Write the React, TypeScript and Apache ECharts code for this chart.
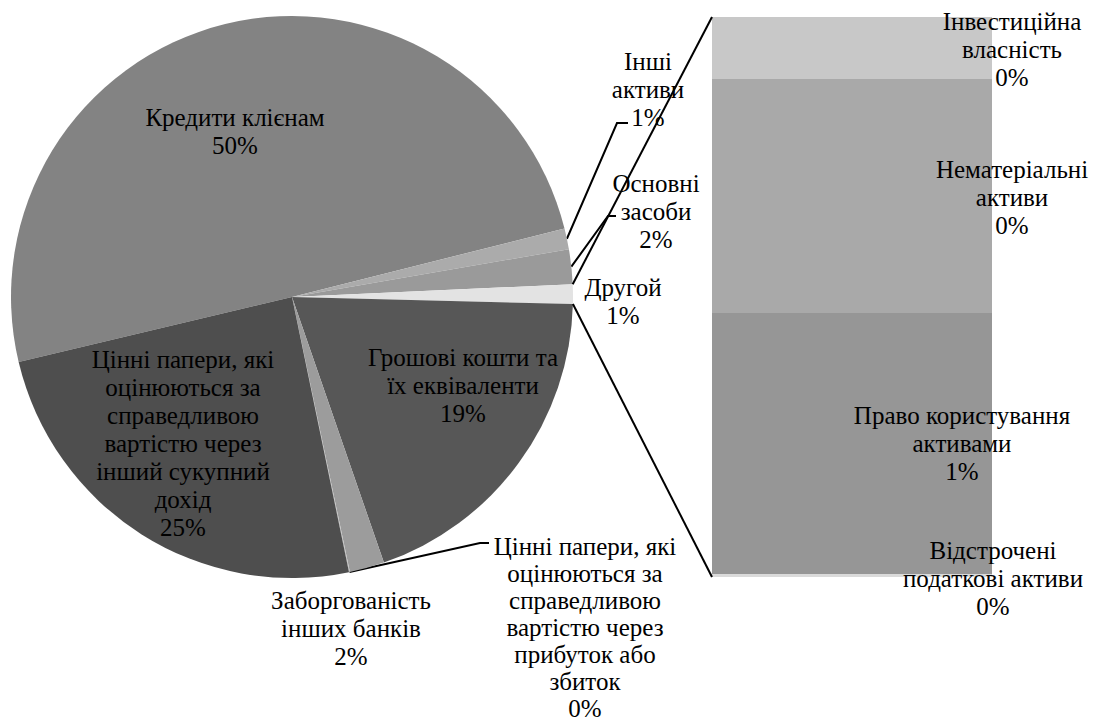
import React, { useEffect, useRef } from "react";
import * as echarts from "echarts";

// Pie categories (clockwise from the left edge), values in % of total assets
const pieNames: string[] = [
  "Кредити клієнам",
  "Інші\nактиви",
  "Основні\nзасоби",
  "Другой",
  "Грошові кошти та\nїх еквіваленти",
  "Заборгованість\nінших банків",
  "Цінні папери, які\nоцінюються за\nсправедливою\nвартістю через\nприбуток або\nзбиток",
  "Цінні папери, які\nоцінюються за\nсправедливою\nвартістю через\nінший сукупний\nдохід",
];
const pieValuesBeforeOther: number[] = [49.8, 1.2, 2.0];
const pieValuesAfterOther: number[] = [19.3, 2.0, 0.05, 24.53];

// Bar ("Другой" breakdown), bottom to top
const barNames: string[] = [
  "Відстрочені\nподаткові активи",
  "Право користування\nактивами",
  "Нематеріальні\nактиви",
  "Інвестиційна\nвласність",
];
const barValues: number[] = [0.006, 0.522, 0.468, 0.124];

const otherValue = barValues.reduce((a, b) => a + b, 0);
const pieValues: number[] = [...pieValuesBeforeOther, otherValue, ...pieValuesAfterOther];
const total = pieValues.reduce((a, b) => a + b, 0);

const pieColors = ["#838383", "#ababab", "#9a9a9a", "#e3e3e3", "#575757", "#9c9c9c", "#bdbdbd", "#4e4e4e"];
const barColors = ["#dadada", "#969696", "#a9a9a9", "#c8c8c8"];

// layout
const CX = 292, CY = 297, R = 281, START = 193.4;
const BAR_L = 712, BAR_T = 17, BAR_W = 280, BAR_H = 560;

const pieLabelPos: [number, number][] = [
  [235, 131], [648, 89], [656, 211], [623, 301], [463, 385], [351, 628], [585, 627], [183, 443],
];
const pieLabelLineHeight: number[] = [28, 28, 28, 28, 28, 28, 27, 28];
const pieLeader: ([number, number][] | null)[] = [
  null, [[617, 123], [628, 123]], [[608, 216], [616, 216]], null, null, null, [[480, 543], [489, 543]], null,
];
const barLabelPos: [number, number][] = [
  [993, 578], [962, 443], [1012, 197], [1012, 49],
];

function angleAt(frac: number) {
  return START - frac * 360;
}
function edgePoint(deg: number): [number, number] {
  const a = (deg * Math.PI) / 180;
  return [CX + R * Math.cos(a), CY - R * Math.sin(a)];
}
function cumBefore(i: number) {
  let s = 0;
  for (let k = 0; k < i; k++) s += pieValues[k];
  return s;
}
const pct = (v: number) => Math.round((v / total) * 100) + "%";

const FF = "Liberation Serif";
const TXT = { fontFamily: FF, fontSize: 25, lineHeight: 28, color: "#000", align: "center" };
const LABEL_BASE = { show: true, ...TXT, rich: { t: { ...TXT } } };
const wrap = (s: string) => s.split("\n").map((l) => "{t|" + l + "}").join("\n");

export default function App() {
  const ref = useRef<HTMLDivElement>(null);
  useEffect(() => {
    if (!ref.current) return;
    const chart = echarts.init(ref.current, undefined, { renderer: "svg" });
    const otherIdx = 3;
    const oStart = angleAt(cumBefore(otherIdx) / total);
    const oEnd = angleAt(cumBefore(otherIdx + 1) / total);
    const pTop = edgePoint(oStart);
    const pBot = edgePoint(oEnd);

    const option: any = {
      animation: false,
      backgroundColor: "#fff",
      textStyle: { fontFamily: FF },
      grid: { left: BAR_L, top: BAR_T, width: BAR_W, height: BAR_H, containLabel: false },
      xAxis: { type: "category", data: ["Другой"], show: false },
      yAxis: { type: "value", min: 0, max: otherValue, show: false },
      series: [
        {
          type: "pie",
          center: [CX, CY],
          radius: R,
          startAngle: START,
          clockwise: true,
          avoidLabelOverlap: false,
          itemStyle: { borderWidth: 0 },
          emphasis: { disabled: true },
          label: {
            ...LABEL_BASE,
            position: "outside",
            formatter: (p: any) => wrap(p.name + "\n" + pct(p.value)),
          },
          labelLine: { show: true, lineStyle: { color: "#000", width: 2 } },
          labelLayout: (p: any) => {
            const i = p.dataIndex;
            const pos = pieLabelPos[i];
            const res: any = { x: pos[0], y: pos[1], align: "center", verticalAlign: "middle" };
            const lead = pieLeader[i];
            if (lead) {
              const mid = angleAt((cumBefore(i) + pieValues[i] / 2) / total);
              res.labelLinePoints = [edgePoint(mid), lead[0], lead[1]];
            }
            return res;
          },
          data: pieNames.map((n, i) => ({
            name: n,
            value: pieValues[i],
            itemStyle: { color: pieColors[i] },
            label: {
              lineHeight: pieLabelLineHeight[i],
              rich: { t: { ...TXT, lineHeight: pieLabelLineHeight[i] } },
            },
            labelLine: { show: !!pieLeader[i] },
          })),
        },
        ...barNames.map((n, i) => ({
          type: "bar",
          name: n,
          stack: "other",
          barWidth: "100%",
          data: [barValues[i]],
          itemStyle: { color: barColors[i] },
          emphasis: { disabled: true },
          label: {
            ...LABEL_BASE,
            formatter: () => wrap(n + "\n" + pct(barValues[i])),
          },
          labelLayout: () => ({
            x: barLabelPos[i][0],
            y: barLabelPos[i][1],
            align: "center",
            verticalAlign: "middle",
          }),
        })),
      ],
      graphic: [
        { type: "line", shape: { x1: pTop[0], y1: pTop[1], x2: BAR_L, y2: BAR_T }, style: { stroke: "#000", lineWidth: 2 }, z: 10 },
        { type: "line", shape: { x1: pBot[0], y1: pBot[1], x2: BAR_L, y2: BAR_T + BAR_H }, style: { stroke: "#000", lineWidth: 2 }, z: 10 },
      ],
    };
    chart.setOption(option);
    return () => chart.dispose();
  }, []);
  return (
    <div
      ref={ref}
      style={{ position: "absolute", left: 0, top: 0, width: 1102, height: 724 }}
    />
  );
}
